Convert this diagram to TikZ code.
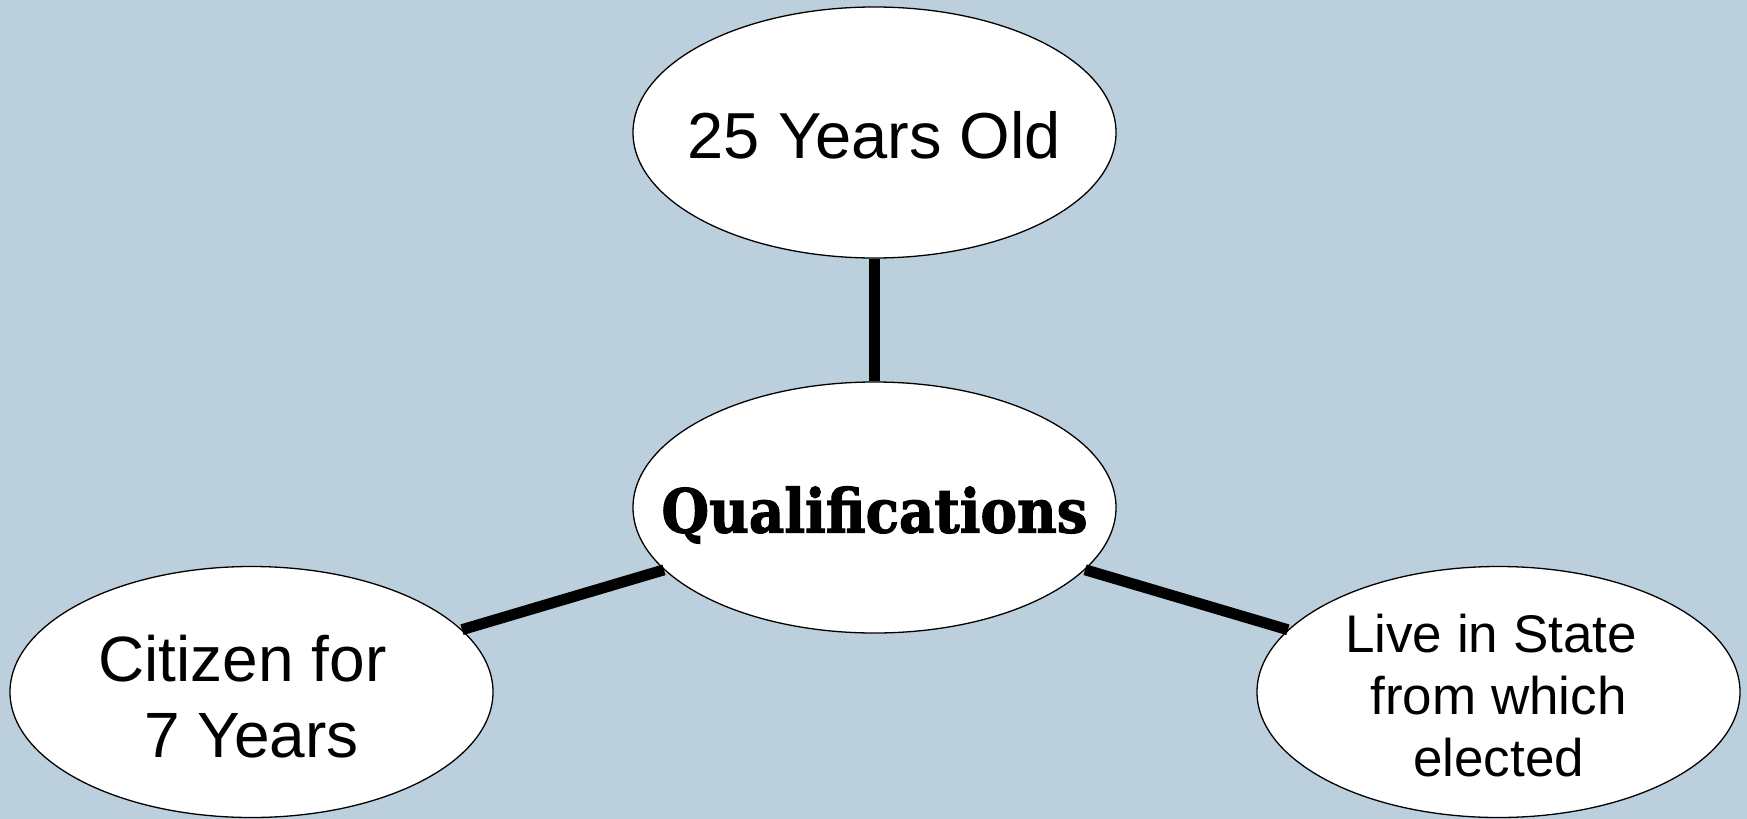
\documentclass[tikz,border=0pt]{standalone}
\usepackage{fontspec}
\usepackage{graphicx}
\setmainfont{Liberation Sans}
\newfontfamily\slabfont[BoldFeatures={FakeBold=2}]{DejaVu Serif}
\usetikzlibrary{shapes.geometric}
\definecolor{bgblue}{RGB}{188,207,220}
\tikzset{
  bubble/.style={ellipse, draw=black, line width=1.3bp, fill=white,
    minimum width=483bp, minimum height=251bp, inner sep=0pt},
  bubbletext/.style={align=center, inner sep=0pt, text=black},
  link/.style={line width=11bp, draw=black}
}
\begin{document}
\begin{tikzpicture}[x=1bp, y=-1bp]
  % canvas
  \fill[bgblue] (0,0) rectangle (1747,819);
  \useasboundingbox (0,0) rectangle (1747,819);

  % ellipses
  \node[bubble] (age)    at (874.5,132.5) {};
  \node[bubble] (qual)   at (874.5,507.5) {};
  \node[bubble] (cit)    at (251.5,692) {};
  \node[bubble] (res)    at (1498.5,692) {};

  % connectors, clipped at the ellipse borders
  \draw[link] (qual) -- (age);
  \draw[link] (qual) -- (cit);
  \draw[link] (qual) -- (res);

  % texts
  \node[bubbletext, font=\fontsize{65bp}{75bp}\selectfont] (agetxt) at (874.5,135) {25 Years Old};
  \node[bubbletext] (qualtxt) at (874.5,515) {\resizebox*{426bp}{57bp}{\slabfont\bfseries Qualifications}};
  \node[bubbletext, font=\fontsize{64bp}{76bp}\selectfont] (cittxt) at (251.5,697) {Citizen for\hspace*{.28em}\\7 Years};
  \node[bubbletext, font=\fontsize{53bp}{62bp}\selectfont] (restxt) at (1498.5,696) {Live in State\hspace*{.28em}\\from which\hspace*{.28em}\\elected};
\end{tikzpicture}
\end{document}
